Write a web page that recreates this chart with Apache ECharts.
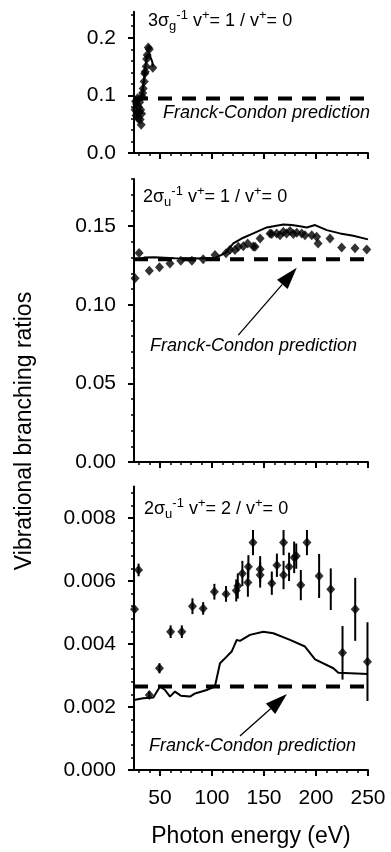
<!DOCTYPE html>
<html>
<head>
<meta charset="utf-8">
<title>Vibrational branching ratios</title>
<script src="https://cdn.jsdelivr.net/npm/echarts@6/dist/echarts.min.js"></script>
<style>
  html, body { margin: 0; padding: 0; background: #fff; }
  #chart { width: 391px; height: 852px; }
</style>
</head>
<body>
<div id="chart"></div>
<script>
// photon energy axis (eV)
const energyMin = 25
const energyMax = 250
const energyTicks = [50, 100, 150, 200, 250]

// y ranges and tick labels of the three panels
const ratioMax = [0.245, 0.18, 0.009]
const ratioTicks = [[0.0, 0.1, 0.2], [0.00, 0.05, 0.10, 0.15], [0.000, 0.002, 0.004, 0.006, 0.008]]
const ratioDigits = [1, 2, 3]
const ratioMinorStep = [0.02, 0.01, 0.0004]

// Franck-Condon prediction of each panel
const fcRatio = [0.0944, 0.129, 0.00265]

// panel 1: 3σg-1 v+=1 / v+=0
const p1Energy = [26, 26.5, 27, 27.5, 28, 28.4, 28.9, 29.4, 29.9, 30.4, 30.9, 31.4, 31.9, 32.3, 32.8, 33.3, 33.8, 34.8, 35.3, 35.8, 36.7, 37.2, 37.7, 38.7, 39.7, 43.1]
const p1Ratio = [0.075, 0.09, 0.065, 0.085, 0.07, 0.095, 0.06, 0.08, 0.07, 0.088, 0.058, 0.075, 0.049, 0.068, 0.098, 0.104, 0.112, 0.124, 0.138, 0.141, 0.15, 0.163, 0.17, 0.183, 0.18, 0.148]
const p1CalcEnergy = [26, 27.9, 29.9, 31.8, 32.8, 33.8, 34.8, 35.8, 36.7, 37.7, 38.7, 39.7, 41.1, 42.6, 43.1]
const p1CalcRatio = [0.088, 0.085, 0.09, 0.095, 0.1, 0.115, 0.13, 0.148, 0.16, 0.17, 0.173, 0.172, 0.165, 0.158, 0.15]

// panel 2: 2σu-1 v+=1 / v+=0
const p2Energy = [26, 29.9, 39.7, 49.5, 59.6, 70, 80.7, 91.5, 102.9, 113.5, 117.3, 122.1, 125.3, 130.1, 134.3, 139.7, 141.4, 146.3, 155.8, 157.4, 162.2, 165.4, 168.6, 171.7, 175, 178.2, 181.5, 186.3, 189.4, 195.9, 200.6, 202, 213.5, 224.7, 237.5, 248.8]
const p2Ratio = [0.1168, 0.133, 0.1216, 0.1238, 0.1263, 0.128, 0.128, 0.1289, 0.1316, 0.1327, 0.135, 0.1348, 0.1369, 0.1373, 0.139, 0.137, 0.1369, 0.1422, 0.1454, 0.145, 0.1454, 0.1443, 0.1464, 0.1454, 0.147, 0.145, 0.1458, 0.1454, 0.1443, 0.1443, 0.1432, 0.139, 0.1422, 0.1365, 0.136, 0.1352]
const p2CalcEnergy = [25, 34.8, 44.6, 64.1, 83.7, 103.2, 113, 120.5, 129.6, 139.7, 152.6, 168.6, 176.6, 184.6, 191.1, 199.1, 210.3, 223.1, 235.8, 250]
const p2CalcRatio = [0.1284, 0.13, 0.1302, 0.1296, 0.1295, 0.1298, 0.133, 0.139, 0.1425, 0.1454, 0.1492, 0.1511, 0.1508, 0.15, 0.1492, 0.1507, 0.1475, 0.1454, 0.1439, 0.1416]

// panel 3: 2σu-1 v+=2 / v+=0, with error bars
const p3Energy = [25.5, 29.4, 39.7, 49.5, 60.2, 71, 81.2, 91.5, 102.3, 113.5, 123.3, 124.8, 129.2, 134.5, 135, 139.4, 146.3, 146.3, 157.5, 162.4, 168.8, 168.8, 174.1, 179, 181, 185.4, 191.3, 203, 214.2, 225.5, 237.7, 249.5]
const p3Ratio = [0.0051, 0.00635, 0.00238, 0.00323, 0.00439, 0.00439, 0.0052, 0.00513, 0.00566, 0.00559, 0.0057, 0.00584, 0.00624, 0.00595, 0.00645, 0.00722, 0.00637, 0.00619, 0.00593, 0.0065, 0.00722, 0.00619, 0.00645, 0.00675, 0.00679, 0.00587, 0.00722, 0.00616, 0.00574, 0.00372, 0.0051, 0.00344]
const p3Error = [0.0001, 0.0002, 0.00012, 0.00016, 0.0002, 0.0002, 0.00025, 0.0002, 0.00025, 0.00025, 0.00035, 0.0004, 0.0004, 0.00045, 0.00037, 0.0004, 0.00042, 0.0004, 0.00037, 0.00037, 0.0004, 0.00045, 0.00045, 0.0005, 0.0004, 0.00048, 0.0004, 0.0007, 0.00066, 0.00085, 0.001, 0.00125]
const p3CalcEnergy = [25, 33.8, 43.6, 50, 54.8, 59.6, 64.4, 70, 78.8, 83.7, 90.1, 94.9, 102.8, 107.7, 114.1, 118.9, 123.8, 126.9, 136.5, 149.3, 159, 175, 189.4, 199.1, 216.7, 221.5, 250]
const p3CalcRatio = [0.00222, 0.00228, 0.0023, 0.00265, 0.00254, 0.00233, 0.00249, 0.00236, 0.00233, 0.00243, 0.00249, 0.00254, 0.00265, 0.00339, 0.0036, 0.00376, 0.00413, 0.0041, 0.00429, 0.00439, 0.00434, 0.00413, 0.00392, 0.00351, 0.00323, 0.00309, 0.00305]

// arrows pointing at the prediction line (panels 2 and 3)
const arrowPanel = [1, 2]
const arrowFrom = [[125.3, 0.0807], [126.9, 0.00108]]
const arrowTo = [[181.5, 0.1235], [172.1, 0.00241]]

const font = 'Liberation Sans, Arial, sans-serif'
const gridTop = [11.8, 179, 486.5]
const gridHeight = [141.2, 283, 283.5]

const zip = (xs, ys) => xs.map((x, i) => [x, ys[i]])

// minor tick positions between the labelled ticks
const minorValues = (step, max, majors) => {
  const out = []
  for (let i = 1; i * step <= max + 1e-9; i++) {
    const v = +(i * step).toFixed(6)
    if (!majors.some(m => Math.abs(m - v) < 1e-9)) out.push(v)
  }
  return out
}

const energyMinor = minorValues(10, energyMax, energyTicks).filter(v => v > energyMin)

const grids = gridTop.map((top, i) => ({left: 134, width: 234, top: top, height: gridHeight[i]}))

const xAxes = []
const yAxes = []
grids.forEach((g, i) => {
  xAxes.push({
    type: 'value', gridIndex: i, position: 'bottom', min: energyMin, max: energyMax,
    axisLine: {lineStyle: {color: '#000', width: 2}},
    axisTick: {customValues: energyTicks, length: 6, lineStyle: {color: '#000', width: 2}},
    axisLabel: {show: i === 2, customValues: energyTicks, margin: 18, color: '#000', fontSize: 21, fontFamily: font},
    splitLine: {show: false}
  })
  xAxes.push({
    type: 'value', gridIndex: i, position: 'bottom', min: energyMin, max: energyMax,
    axisLine: {show: false},
    axisTick: {customValues: energyMinor, length: 3, lineStyle: {color: '#000', width: 1.5}},
    axisLabel: {show: false},
    splitLine: {show: false}
  })
  yAxes.push({
    type: 'value', gridIndex: i, position: 'left', min: 0, max: ratioMax[i],
    axisLine: {show: true, lineStyle: {color: '#000', width: 2}},
    axisTick: {show: true, customValues: ratioTicks[i], length: 6, lineStyle: {color: '#000', width: 2}},
    axisLabel: {customValues: ratioTicks[i], margin: 18, color: '#000', fontSize: 21, fontFamily: font,
      formatter: v => v.toFixed(ratioDigits[i])},
    splitLine: {show: false}
  })
  yAxes.push({
    type: 'value', gridIndex: i, position: 'left', min: 0, max: ratioMax[i],
    axisLine: {show: false},
    axisTick: {show: true, customValues: minorValues(ratioMinorStep[i], ratioMax[i], ratioTicks[i]), length: 3, lineStyle: {color: '#000', width: 1.5}},
    axisLabel: {show: false},
    splitLine: {show: false}
  })
})

const series = []
const points = [zip(p1Energy, p1Ratio), zip(p2Energy, p2Ratio), zip(p3Energy, p3Ratio)]
const calc = [zip(p1CalcEnergy, p1CalcRatio), zip(p2CalcEnergy, p2CalcRatio), zip(p3CalcEnergy, p3CalcRatio)]

for (let i = 0; i < 3; i++) {
  series.push({
    type: 'line', xAxisIndex: i * 2, yAxisIndex: i * 2, silent: true,
    data: [[energyMin, fcRatio[i]], [energyMax, fcRatio[i]]],
    showSymbol: false, z: 1,
    lineStyle: {color: '#000', width: 4, type: [14, 10], cap: 'butt'}
  })
  series.push({
    type: 'line', xAxisIndex: i * 2, yAxisIndex: i * 2, silent: true,
    data: calc[i], showSymbol: false, z: 2,
    lineStyle: {color: '#000', width: 2}
  })
  series.push({
    type: 'scatter', xAxisIndex: i * 2, yAxisIndex: i * 2, silent: true,
    data: points[i], symbol: 'diamond', symbolSize: [9, 10], z: 4,
    itemStyle: {color: '#000'}
  })
}

// error bars of panel 3
series.push({
  type: 'custom', xAxisIndex: 4, yAxisIndex: 4, silent: true, z: 3,
  data: p3Energy.map((x, i) => [x, p3Ratio[i], p3Error[i]]),
  renderItem(params, api) {
    const x = api.value(0), y = api.value(1), e = api.value(2)
    const a = api.coord([x, y + e])
    const b = api.coord([x, y - e])
    return {type: 'line', shape: {x1: a[0], y1: a[1], x2: b[0], y2: b[1]}, style: {stroke: '#000', lineWidth: 2}}
  }
})

// arrows
arrowPanel.forEach((p, k) => {
  series.push({
    type: 'custom', xAxisIndex: p * 2, yAxisIndex: p * 2, silent: true, z: 5,
    data: [[arrowFrom[k][0], arrowFrom[k][1], arrowTo[k][0], arrowTo[k][1]]],
    renderItem(params, api) {
      const a = api.coord([api.value(0), api.value(1)])
      const b = api.coord([api.value(2), api.value(3)])
      const dx = b[0] - a[0], dy = b[1] - a[1]
      const len = Math.sqrt(dx * dx + dy * dy)
      const ux = dx / len, uy = dy / len
      const headLen = 22, headW = 7
      const bx = b[0] - ux * headLen, by = b[1] - uy * headLen
      return {
        type: 'group',
        children: [
          {type: 'line', shape: {x1: a[0], y1: a[1], x2: bx, y2: by}, style: {stroke: '#000', lineWidth: 1.3}},
          {type: 'polygon', shape: {points: [[b[0], b[1]], [bx - uy * headW, by + ux * headW], [bx + uy * headW, by - ux * headW]]}, style: {fill: '#000'}}
        ]
      }
    }
  })
})

const titleRich = {
  n: {fontSize: 18, lineHeight: 24, fontFamily: font, fill: '#000', verticalAlign: 'middle'},
  sub: {fontSize: 13, lineHeight: 12, fontFamily: font, fill: '#000', verticalAlign: 'bottom'},
  sup: {fontSize: 13, lineHeight: 16, fontFamily: font, fill: '#000', verticalAlign: 'top'}
}
const titleTexts = [
  '{n|3σ}{sub|g}{sup|-1}{n| v}{sup|+}{n|= 1 / v}{sup|+}{n|= 0}',
  '{n|2σ}{sub|u}{sup|-1}{n| v}{sup|+}{n|= 1 / v}{sup|+}{n|= 0}',
  '{n|2σ}{sub|u}{sup|-1}{n| v}{sup|+}{n|= 2 / v}{sup|+}{n|= 0}'
]
const titlePos = [[148, 21], [143, 197], [144, 509]]
const notePos = [[163, 113], [150, 346], [149, 746]]

const graphic = []
titleTexts.forEach((t, i) => {
  graphic.push({type: 'text', x: titlePos[i][0], y: titlePos[i][1],
    style: {text: t, rich: titleRich, verticalAlign: 'middle', align: 'left'}})
  graphic.push({type: 'text', x: notePos[i][0], y: notePos[i][1],
    style: {text: 'Franck-Condon prediction', font: 'italic 18px ' + font, fill: '#000', verticalAlign: 'middle', align: 'left'}})
})
graphic.push({type: 'text', x: 25, y: 431, rotation: Math.PI / 2,
  style: {text: 'Vibrational branching ratios', font: '23px ' + font, fill: '#000', align: 'center', verticalAlign: 'middle'}})
graphic.push({type: 'text', x: 251, y: 837,
  style: {text: 'Photon energy (eV)', font: '23px ' + font, fill: '#000', align: 'center', verticalAlign: 'middle'}})

const chart = echarts.init(document.getElementById('chart'), null, {renderer: 'canvas'})
chart.setOption({
  animation: false,
  backgroundColor: '#fff',
  grid: grids,
  xAxis: xAxes,
  yAxis: yAxes,
  series: series,
  graphic: graphic
})
</script>
</body>
</html>
